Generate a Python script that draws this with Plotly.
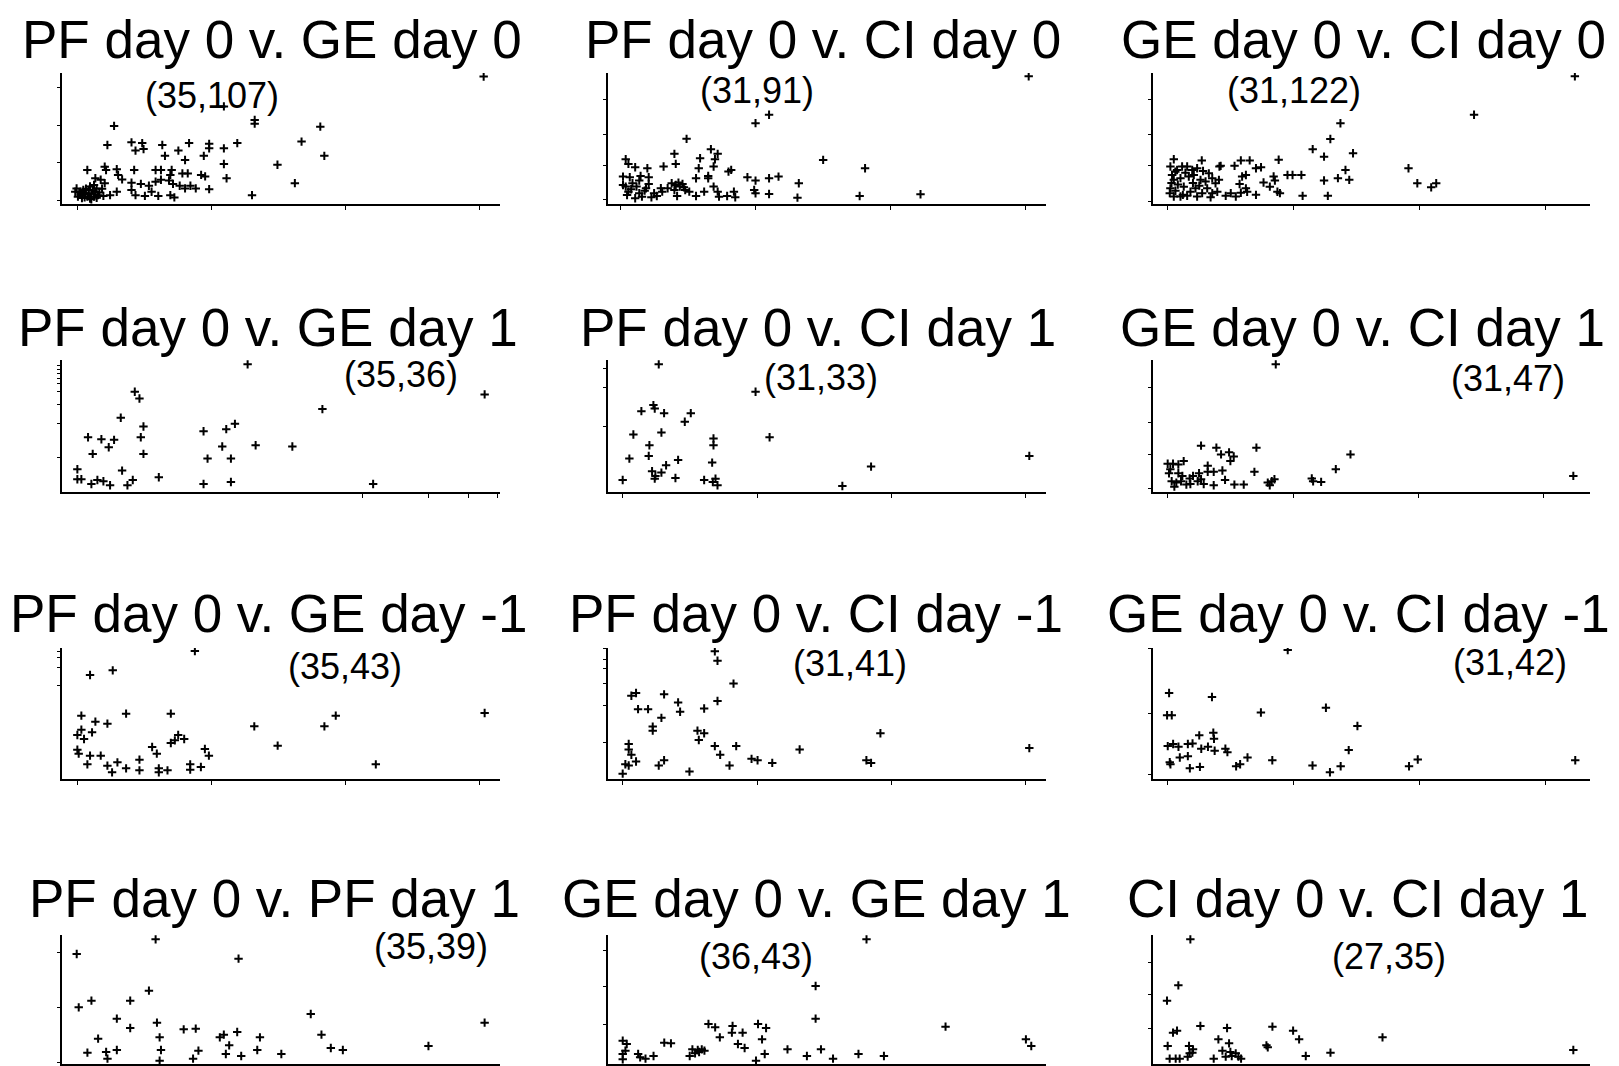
import plotly.graph_objects as go
from plotly.subplots import make_subplots

# ---------------- data (arbitrary units) ----------------
titles = [
    "PF day 0 v. GE day 0", "PF day 0 v. CI day 0", "GE day 0 v. CI day 0",
    "PF day 0 v. GE day 1", "PF day 0 v. CI day 1", "GE day 0 v. CI day 1",
    "PF day 0 v. GE day -1", "PF day 0 v. CI day -1", "GE day 0 v. CI day -1",
    "PF day 0 v. PF day 1", "GE day 0 v. GE day 1", "CI day 0 v. CI day 1",
]
count_labels = ["(35,107)", "(31,91)", "(31,122)",
                "(35,36)", "(31,33)", "(31,47)",
                "(35,43)", "(31,41)", "(31,42)",
                "(35,39)", "(36,43)", "(27,35)"]

pf0_ge0_x = [303,109,132,132,181,27,167,184,149,162,130,22,40,48,49,43,63,83,98,98,109,119,65,75,80,94,109,111,98,7,
             20,21,29,30,42,58,62,70,69,78,82,92,95,13,17,20,33,40,47,53,58,62,68,71,76,80,84,88,29,24,19,40,43,50,55,60,69,72,
             -1,2,3,5,7,8,9,10,12,13,4,0,14,15,1,5,8,-2,10,12,3,6,11,16,2,9,14,18]
pf0_ge0_y = [330,250,214,204,196,198,156,118,94,45,13,147,154,152,136,132,147,152,150,138,138,152,118,132,107,118,96,58,29,80,
             89,80,82,67,80,80,80,80,67,71,71,67,63,58,54,45,55,46,43,38,49,54,52,43,38,31,38,31,22,13,11,27,13,11,22,11,13,7,
             31,22,13,18,9,27,36,18,9,22,27,9,31,13,20,7,16,22,2,40,5,30,26,20,14,4,6,30]

pf0_ci0_x = [302,110,100,49,67,72,40,150,181,4,6,11,20,32,41,59,58,69,70,80,82,94,100,110,117,132,2,7,15,21,56,65,65,
             4,6,9,12,14,16,19,21,25,27,30,31,5,11,38,41,43,44,46,48,42,51,56,62,69,72,73,79,84,85,
             99,100,110,131,177,222,8,18,23,35,40,47,2,14]
pf0_ci0_y = [370,255,230,183,152,138,138,120,95,122,108,98,95,100,108,125,95,100,122,85,90,68,58,65,70,50,70,68,72,68,65,72,65,
             40,25,50,40,20,10,35,48,20,12,35,25,15,5,50,45,52,40,48,30,12,25,12,25,40,25,10,12,25,8,
             30,20,18,7,12,17,32,28,8,35,30,38,45,58]

ge0_ci0_x = [323,243,137,129,115,124,147,141,135,144,124,107,127,191,198,209,213,88,95,106,99,74,70,84,85,89,76,81,87,53,
             58,65,59,62,57,62,70,46,50,54,58,63,27,41,42,
             4.8,2.1,7.4,3.4,11.4,15.4,19.4,23.3,32.6,35.3,4.8,10.1,16.7,20.7,26,30,37.9,40.6,2.1,6.1,12.7,18,22,27.3,31.3,
             35.3,39.3,10.1,15.4,23.3,34,4.8,1.6,8,14,25,3,28,12,6,20]
ge0_ci0_y = [368,255,230,184,154,132,142,93,69,64,62,17,17,98,54,42,54,123,78,78,78,101,98,74,62,25,56,44,29,105,
             121,121,74,78,52,39,20,17,25,15,26,29,121,103,105,
             124.5,103,93,78,103,103,93,98,83,69,64,69,74,78,64,59,54,64,39,32,44,29,39,25,39,
             25,29,15,17,15,13,15,25,50,85,47,55,90,20,88,55]

pf0_ge1_x = [139,316.5,195,54.5,58,44,61,19.5,29.5,39,59,35,23,61,11.5,45,11.5,14.5,22,26.5,31,36,49,53,72.5,106,123,129.5,
             120,109,126.5,145,172.5,106,126.5,233]
pf0_ge1_y = [95.5,73,62,75,70,55.5,49,41,39.5,39,41,33.5,28.5,28.5,17,16,9.5,9.5,6,9,8,5,5,9,11,45.5,47,51,
             34,25,25,35,34,6,7.5,6]

pf0_ci1_x = [38,110.5,34,35,25,42,62,57.5,19,40,121,31,79,79,16,30.5,52.5,43.5,78,33,35.5,35,40,50.5,11,72,80.5,78.5,82,
             197,175.5,315.5]
pf0_ci1_y = [95.5,75,65,62.5,60.5,59,59,52.5,43,44.5,41,35,40,35,25,27,24,20,22,15.5,12,10,14.5,10.5,9,9,10,7.5,5,
             19,4.5,27]

ge0_ci1_x = [92,36,47.5,77.5,51,57,60.5,58,11,15,19,23,12,19,41,34.5,41,45.5,52,76,14,17.5,21,25,27.5,33.5,36,45.5,54,61,68,
             86,89,91,87.5,119,120,126,137,148,315,13,22,28,30,16,38]
ge0_ci1_y = [95,34.5,33,33,28,29.5,26.5,23,21,21,20.5,23,14,14,19.5,14,15,15,16,15,8,7,8,5.5,10,8,9.5,5,9,5.5,5.5,
             7,8,9.5,5,10,8,7.5,17,28,12,17,12,6,12,4,6]

pf0_gem1_x = [99.5,21,38,14.5,48,81.5,25,34,14.5,11.5,16.5,22.5,11.5,12.5,21,29,19,34,41.5,37.5,48,58,58,67.5,71,72.5,72.5,79,
              81.5,84.5,87,91.5,96,96,104,107,110,144,161.5,196.5,205,235,316.5]
pf0_gem1_y = [96,78,81.5,47.5,49,49,43,41.5,37,33,30,35,22,19,17.5,17.5,11,10,12.5,5,8,14.5,6.5,24,19,8,5,6.5,
              27,29,33,30,11,7,9,22.5,17.5,39.5,25,39.5,47.5,11,49.5]

pf0_cim1_x = [80,82,94,17.5,21,42,82,52.5,54,22.5,30,72,40,33.5,33.5,67,72,68,15.5,15.5,17.5,13,15.5,21,11,38,42,61,80,96,84,91,
              107.5,112,123,143.5,193.5,197,204,315.5]
pf0_cim1_y = [95,88,71,62,64,63,58,57,50,52,52,52.5,45.5,39,36,36,34,29,26,22,18,11,10,13,4,10,14,5.5,24.5,24.5,18,10,
              15,14,12,22,14,12,34,23]

ge0_cim1_x = [100.5,12,44,10.5,14,80.5,129,152.5,34.5,45,45.5,11,15,19,26,29.5,36,41,46,54,55.5,146,12.5,13,20,26,27.5,35,
              62,65,70.5,89,119,132,140,191,197.5,315]
ge0_cim1_y = [96,64,61,47.5,47.5,49.5,53,39.5,32.5,34.5,30,24.5,26,24,26,26.5,22.5,24,21,22.5,20,21.5,12.5,11,16,17,8,9,
              9.5,11,16,14,10,5,9.5,9.5,14.5,14]

pf0_pf1_x = [70,11,132,65,12.5,22,51,41,51,71,73,74,73,27,19,33,41,34,91,100,102,98,118,121,125,122.5,131,134,148,146,164,
             186,194,201,210,274,316]
pf0_pf1_y = [93.5,82.5,79,55,42.5,47.5,47.5,34,27,31,20,10.5,2.5,19,8.5,9,10.5,4,26,26.5,10,4,20,22,14,7.5,24,6,20,10.5,7.5,
             37.5,22,12,10.5,13.5,31]

ge0_ge1_x = [193,155,155,252,312,316,75,80,93,92.5,100.5,83.5,97,112,118,115,11,14,42,47,11,11,22.5,28,34,61,63,67,70,117,110.5,
             134,148.5,159,168,187,206,65,68,72,24,13,102]
ge0_ge1_y = [93.5,58.5,34,28,18.5,13.5,30,27.5,28.5,23.5,23.5,20,15,30,27,18.5,17.5,15,16,15.5,7.5,3.5,7.5,4,6,6,11,10.5,11,7.5,2.5,
             11,6,11,4,7.5,6,8,9,10,5,10,12]

ci0_ci1_x = [28,19,10.5,15,18,35.5,55.5,49,57,11,27,27.5,29.5,26,12.5,17,45.5,52,54.5,59,64,66,89.5,85,86,105,109.5,114.5,133,
             172,315,30,62,20,58]
ci0_ci1_y = [93.5,59,47.5,23.5,25,28.5,27,18.5,15.5,13.5,13.5,8,8.5,5.5,4,4,4,10,5.5,6,5.5,4,28,14,12.5,25,18.5,6,8.5,
             20,10.5,11,8,4,9]

# label positions (data units of each panel)
label_x = [100, 101, 100, 254, 159.5, 266, 212, 181, 266, 276, 110.5, 177]
label_y = [279, 329, 327, 88, 86, 84.5, 84.5, 86, 87, 88, 80.5, 80.5]

# axis ranges and ticks (data units)
x_ranges = [(-11.9, 315.2), (-9.1, 314.8), (-11.7, 335), (0, 328), (0, 328), (0, 327.5),
            (0, 328), (0, 328), (0, 326), (0, 327.5), (0, 327), (0, 327.5)]
y_ranges = [(-10.7, 339.3), (-12, 380), (-6.9, 377.5), (0, 98.75), (0, 98.75), (0, 98.25),
            (0, 98.25), (0, 97.5), (0, 97.5), (0, 96.75), (0, 96.75), (0, 96.75)]
x_ticks = [[0, 100, 200, 300], [0, 100, 200, 300], [0, 100, 200, 300],
           [225, 274.5, 304.5, 326], [11, 112, 212, 313], [10.5, 105, 199, 293],
           [11.5, 112, 212.5, 313], [11, 112, 212, 313], [10.5, 105, 199, 293],
           [], [], []]
y_ticks = [[0, 100, 200, 300], [0, 102, 195, 300], [0, 105, 196.6, 299],
           [26, 51, 65.5, 75, 81, 85, 89, 92, 95], [49, 78, 92.5], [2.5, 28, 52, 77.5],
           [70, 84, 91, 96], [27.5, 55, 71, 82, 89, 97], [3, 49, 97],
           [1.5, 42.5, 83.5], [30, 58, 85.5], [27, 52, 76]]

series = [(pf0_ge0_x, pf0_ge0_y), (pf0_ci0_x, pf0_ci0_y), (ge0_ci0_x, ge0_ci0_y),
          (pf0_ge1_x, pf0_ge1_y), (pf0_ci1_x, pf0_ci1_y), (ge0_ci1_x, ge0_ci1_y),
          (pf0_gem1_x, pf0_gem1_y), (pf0_cim1_x, pf0_cim1_y), (ge0_cim1_x, ge0_cim1_y),
          (pf0_pf1_x, pf0_pf1_y), (ge0_ge1_x, ge0_ge1_y), (ci0_ci1_x, ci0_ci1_y)]

# ---------------- layout geometry (pixels) ----------------
W, H = 1619, 1066
col_px = [(62, 500), (608, 1046), (1153, 1590)]
row_px = [(73, 204), (360, 492), (648, 779), (935, 1064)]
title_px_x = [272, 823, 1363, 268, 818, 1362, 268, 816, 1358, 274, 816, 1358]
title_px_y = [40, 327, 613, 898]

FONT = "Liberation Sans, Arial, Helvetica, sans-serif"

fig = make_subplots(rows=4, cols=3)
annotations = []
for i, (xs, ys) in enumerate(series):
    r, c = divmod(i, 3)
    fig.add_trace(go.Scatter(x=xs, y=ys, mode="markers", showlegend=False,
                             marker=dict(symbol="cross-thin", size=6, color="black",
                                         line=dict(width=2, color="black")),
                             hoverinfo="skip"),
                  row=r + 1, col=c + 1)
    sfx = "" if i == 0 else str(i + 1)
    x0, x1 = col_px[c]
    y0, y1 = row_px[r]
    fig.layout["xaxis" + sfx].update(
        domain=[x0 / W, x1 / W], range=list(x_ranges[i]), showgrid=False, zeroline=False,
        showline=True, linecolor="black", linewidth=1.5, ticks="outside" if x_ticks[i] else "",
        tickvals=x_ticks[i], ticklen=4, tickwidth=1, tickcolor="black", showticklabels=False)
    fig.layout["yaxis" + sfx].update(
        domain=[1 - y1 / H, 1 - y0 / H], range=list(y_ranges[i]), showgrid=False, zeroline=False,
        showline=True, linecolor="black", linewidth=1.5, ticks="outside",
        tickvals=y_ticks[i], ticklen=3, tickwidth=1, tickcolor="black", showticklabels=False)
    annotations.append(dict(text=count_labels[i], x=label_x[i], y=label_y[i],
                            xref="x" + sfx, yref="y" + sfx, showarrow=False,
                            xanchor="center", yanchor="middle", borderpad=0,
                            font=dict(family=FONT, size=36, color="black")))
    annotations.append(dict(text=titles[i], x=title_px_x[i] / W, y=1 - title_px_y[r] / H,
                            xref="paper", yref="paper", showarrow=False,
                            xanchor="center", yanchor="middle", borderpad=0,
                            font=dict(family=FONT, size=53, color="black")))

fig.update_layout(width=W, height=H, margin=dict(l=0, r=0, t=0, b=0),
                  paper_bgcolor="white", plot_bgcolor="white",
                  annotations=annotations, showlegend=False)

fig.write_html("out.html", config={"displayModeBar": False},
               post_script="document.body.style.margin='0';document.body.style.overflow='hidden';")
